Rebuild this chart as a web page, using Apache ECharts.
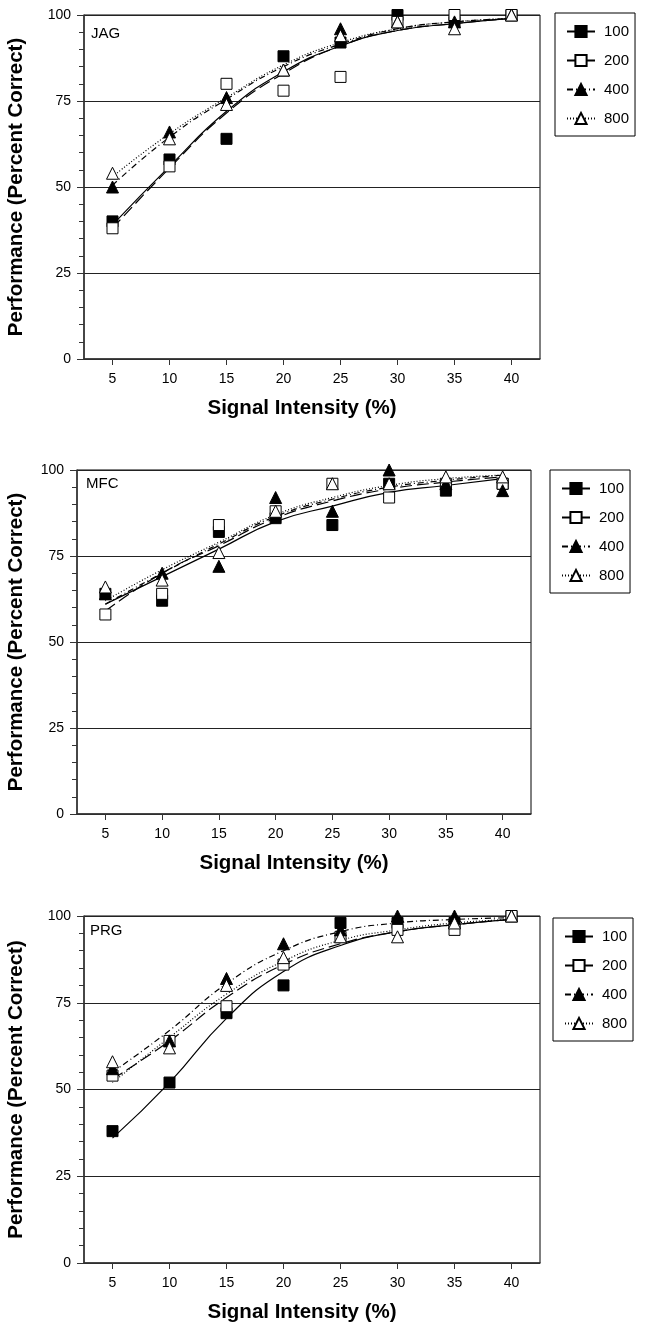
<!DOCTYPE html>
<html>
<head>
<meta charset="utf-8">
<title>Performance vs signal intensity</title>
<script src="https://cdn.jsdelivr.net/npm/echarts@6/dist/echarts.min.js"></script>
<style>
html, body { margin: 0; padding: 0; background: #fff; }
#main { width: 646px; height: 1329px; }
</style>
</head>
<body>
<div id="main"></div>
<script>
// signal intensity categories (x axis)
const intensity = ['5', '10', '15', '20', '25', '30', '35', '40'];
const groups = ['100', '200', '400', '800'];

// JAG - measured points
const jag100 = [40, 58, 64, 88, 92, 100, 98, 100];
const jag200 = [38, 56, 80, 78, 82, 98, 100, 100];
const jag400 = [50, 66, 76, 84, 96, 98, 98, 100];
const jag800 = [54, 64, 74, 84, 94, 98, 96, 100];
// JAG - fitted curves
const jagFit100 = [39, 56, 72, 83.5, 91, 95.5, 97.5, 99];
const jagFit200 = [38, 55.5, 71.5, 83, 91, 95.5, 97.5, 99];
const jagFit400 = [50.5, 64.5, 75.5, 85, 91.5, 96, 98, 99];
const jagFit800 = [53, 65.5, 76, 85.5, 92, 96, 98, 99];

// MFC
const mfc100 = [64, 62, 82, 86, 84, 96, 94, 96];
const mfc200 = [58, 64, 84, 88, 96, 92, 96, 96];
const mfc400 = [64, 70, 72, 92, 88, 100, 96, 94];
const mfc800 = [66, 68, 76, 88, 96, 96, 98, 98];
const mfcFit100 = [61, 69, 77, 85, 89.5, 93.5, 95.5, 97.5];
const mfcFit200 = [59, 70, 78, 86, 91, 94.5, 96.5, 98];
const mfcFit400 = [61, 70, 78.5, 86.5, 91.5, 95, 97, 98.5];
const mfcFit800 = [62, 71, 79, 87, 92, 95.5, 97.5, 98.5];

// PRG
const prg100 = [38, 52, 72, 80, 98, 98, 98, 100];
const prg200 = [54, 64, 74, 86, 94, 96, 96, 100];
const prg400 = [56, 64, 82, 92, 96, 100, 100, 100];
const prg800 = [58, 62, 80, 88, 94, 94, 98, 100];
const prgFit100 = [36, 52, 70.5, 84, 91.5, 95.5, 97.5, 99];
const prgFit200 = [53, 64, 76.5, 86, 92, 95.5, 97.5, 99];
const prgFit400 = [55, 67, 80.5, 90, 95.5, 98, 99, 99.5];
const prgFit800 = [52, 65, 77.5, 87, 93, 96, 98, 99];

const panels = [
    { label: 'JAG', points: [jag100, jag200, jag400, jag800], fits: [jagFit100, jagFit200, jagFit400, jagFit800] },
    { label: 'MFC', points: [mfc100, mfc200, mfc400, mfc800], fits: [mfcFit100, mfcFit200, mfcFit400, mfcFit800] },
    { label: 'PRG', points: [prg100, prg200, prg400, prg800], fits: [prgFit100, prgFit200, prgFit400, prgFit800] }
];

// where each panel sits on the page
const layout = [
    { left: 84, top: 15, width: 456, height: 344, yGap: 57, labelX: 91, labelY: 26, legendX: 555, legendY: 13 },
    { left: 77, top: 470, width: 454, height: 344, yGap: 50, labelX: 86, labelY: 476, legendX: 550, legendY: 470 },
    { left: 84, top: 916, width: 456, height: 347, yGap: 57, labelX: 90, labelY: 923, legendX: 553, legendY: 918 }
];

const styles = {
    '100': { symbol: 'rect', fill: '#000', size: 11, dash: 'solid' },
    '200': { symbol: 'rect', fill: '#fff', size: 11, dash: [12, 5] },
    '400': { symbol: 'triangle', fill: '#000', size: 12, dash: [6, 3, 1, 3] },
    '800': { symbol: 'triangle', fill: '#fff', size: 12, dash: [1, 2] }
};

const font = 'Liberation Sans, Arial, sans-serif';
const axisColor = '#333';

let chart = echarts.init(document.getElementById('main'));

let grids = [], xAxes = [], yAxes = [], titles = [], legends = [];
let fitSeries = [], pointSeries = [];

panels.forEach(function (p, i) {
    const l = layout[i];
    grids.push({
        left: l.left, top: l.top, width: l.width, height: l.height,
        show: true, borderColor: '#000', borderWidth: 1,
        outerBoundsMode: 'none'
    });
    xAxes.push({
        gridIndex: i,
        type: 'category',
        data: intensity,
        boundaryGap: true,
        name: 'Signal Intensity (%)',
        nameLocation: 'middle',
        nameGap: 39,
        nameTextStyle: { fontSize: 20.5, fontWeight: 'bold', color: '#000', fontFamily: font, padding: [0, 20, 0, 0] },
        axisLine: { show: true, lineStyle: { color: axisColor, width: 1.5 } },
        axisTick: { show: true, alignWithLabel: true, length: 6, lineStyle: { color: axisColor } },
        axisLabel: { fontSize: 14, color: '#000', margin: 13, fontFamily: font },
        splitLine: { show: false }
    });
    yAxes.push({
        gridIndex: i,
        type: 'value',
        min: 0, max: 100, interval: 25,
        name: 'Performance (Percent Correct)',
        nameLocation: 'middle',
        nameGap: l.yGap,
        nameTextStyle: { fontSize: 20.5, fontWeight: 'bold', color: '#000', fontFamily: font },
        axisLine: { show: true, lineStyle: { color: axisColor, width: 1.5 } },
        axisTick: { show: true, length: 7, lineStyle: { color: axisColor } },
        minorTick: { show: true, splitNumber: 5, length: 5, lineStyle: { color: axisColor } },
        minorSplitLine: { show: false },
        axisLabel: { fontSize: 14, color: '#000', margin: 13, fontFamily: font },
        splitLine: { show: true, lineStyle: { color: '#222', width: 1 } }
    });
    titles.push({
        text: p.label, left: l.labelX, top: l.labelY, padding: 0,
        textStyle: { fontSize: 15, fontWeight: 'normal', color: '#000', fontFamily: font }
    });
    legends.push({
        data: groups,
        orient: 'vertical',
        left: l.legendX, top: l.legendY,
        padding: [11, 6, 10, 11],
        itemWidth: 28, itemHeight: 14, itemGap: 14,
        borderColor: '#000', borderWidth: 1, borderRadius: 0,
        backgroundColor: '#fff',
        selectedMode: false,
        textStyle: { fontSize: 15, color: '#000', fontFamily: font, padding: [0, 0, 0, 4] }
    });

    groups.forEach(function (g, j) {
        const st = styles[g];
        fitSeries.push({
            name: g,
            type: 'line',
            xAxisIndex: i, yAxisIndex: i,
            data: p.fits[j],
            smooth: true,
            showSymbol: false,
            symbol: st.symbol,
            symbolSize: st.size,
            itemStyle: { color: st.fill, borderColor: '#000', borderWidth: 1 },
            lineStyle: { color: '#000', width: 1.2, type: st.dash },
            silent: true,
            z: 2
        });
        pointSeries.push({
            name: g,
            type: 'scatter',
            xAxisIndex: i, yAxisIndex: i,
            data: p.points[j],
            symbol: st.symbol,
            symbolSize: st.size,
            itemStyle: { color: st.fill, borderColor: '#000', borderWidth: 1, opacity: 1 },
            silent: true,
            z: 3
        });
    });
});

const option = {
    animation: false,
    backgroundColor: '#fff',
    textStyle: { fontFamily: font },
    title: titles,
    legend: legends,
    grid: grids,
    xAxis: xAxes,
    yAxis: yAxes,
    // curves first so the legend takes the line + symbol icon
    series: fitSeries.concat(pointSeries)
};

chart.setOption(option);
</script>
</body>
</html>
